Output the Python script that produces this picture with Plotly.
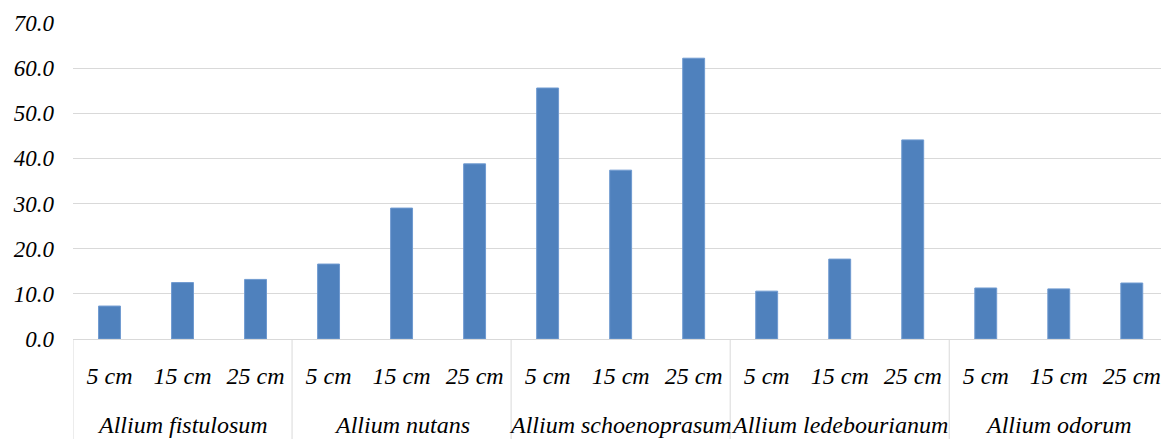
import plotly.graph_objects as go

species = ["Allium fistulosum", "Allium nutans", "Allium schoenoprasum",
           "Allium ledebourianum", "Allium odorum"]
depths = ["5 cm", "15 cm", "25 cm"]
values = [
    [7.3, 12.5, 13.2],    # Allium fistulosum
    [16.6, 29.0, 38.8],   # Allium nutans
    [55.6, 37.4, 62.2],   # Allium schoenoprasum
    [10.6, 17.7, 44.1],   # Allium ledebourianum
    [11.3, 11.1, 12.4],   # Allium odorum
]

GRID = "#d9d9d9"
FONT = "Liberation Serif"
n_d = len(depths)

# one slot per (species, depth) pair along the category axis
x, y, tick_text = [], [], []
for i, vals in enumerate(values):
    for j, v in enumerate(vals):
        x.append(i * n_d + j)
        y.append(v)
        tick_text.append(depths[j])

fig = go.Figure(go.Bar(
    x=x, y=y,
    marker=dict(color="#4f81bd", line=dict(color="#6f9ad0", width=1)),
))

# species names under each group and separators between groups
for i, sp in enumerate(species):
    fig.add_annotation(
        x=i * n_d + (n_d - 1) / 2, xref="x",
        y=-0.272, yref="paper", yanchor="middle",
        text=sp, showarrow=False,
        font=dict(family=FONT, size=24, style="italic", color="black"),
    )
for k in range(len(species) + 1):
    fig.add_shape(
        type="line", xref="x", yref="paper",
        x0=k * n_d - 0.5, x1=k * n_d - 0.5, y0=0, y1=-0.32,
        line=dict(color=GRID, width=1),
    )

fig.update_layout(
    width=1161, height=439,
    margin=dict(l=73, r=0, t=23, b=100),
    paper_bgcolor="white", plot_bgcolor="white",
    bargap=0.7,
    showlegend=False,
)
fig.update_xaxes(
    range=[-0.5, 14.4],
    tickvals=x, ticktext=tick_text,
    showline=True, linecolor=GRID, linewidth=1,
    showgrid=False, zeroline=False,
    ticks="", ticklabelstandoff=15,
    tickfont=dict(family=FONT, size=24, style="italic", color="black"),
)
fig.update_yaxes(
    range=[0, 70], dtick=10, tickformat=".1f",
    showgrid=True, gridcolor=GRID, gridwidth=1,
    zeroline=False, showline=False,
    ticks="", ticklabelstandoff=18,
    tickfont=dict(family=FONT, size=23, style="italic", color="black"),
)

fig.write_html("out.html")
